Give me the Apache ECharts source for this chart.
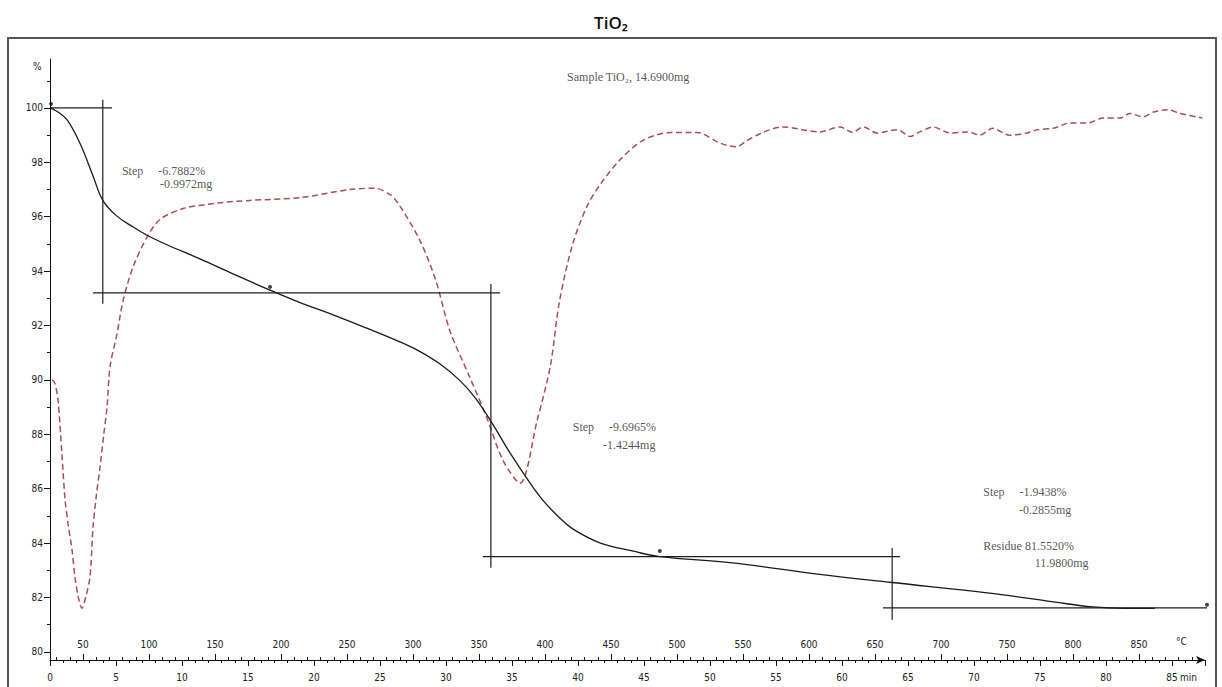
<!DOCTYPE html>
<html><head><meta charset="utf-8">
<script src="https://cdn.jsdelivr.net/npm/echarts@6/dist/echarts.min.js"></script>
<style>html,body{margin:0;padding:0;background:#fff}#c{width:1222px;height:687px}</style>
</head><body><div id="c"></div>
<script>
// ---- data (time in min, mass in %) ----
const tgTime = [0, 0.6, 1.3, 2.27, 3.26, 4.0, 5.0, 6.3, 7.35, 8.86, 11.36, 13.86, 16.67, 18.9, 21.4, 24.0, 26.5, 28.0, 29.5, 31.0, 32.2, 33.5, 34.8, 36.1, 37.3, 38.5, 39.6, 41.7, 44.2, 46.2, 51.7, 58.3, 63.8, 71.0, 76.0, 79.0, 81.4, 83.7];
const tgPercent = [100, 99.85, 99.56, 98.7, 97.5, 96.6, 96.05, 95.62, 95.32, 94.97, 94.45, 93.9, 93.3, 92.85, 92.4, 91.9, 91.4, 91.05, 90.6, 90.0, 89.35, 88.4, 87.35, 86.4, 85.6, 84.98, 84.52, 84.0, 83.7, 83.5, 83.27, 82.85, 82.55, 82.17, 81.84, 81.65, 81.6, 81.6];

const dtgTime = [0.15, 0.35, 0.6, 0.9, 1.14, 1.4, 1.67, 1.89, 2.15, 2.42, 2.7, 3.03, 3.26, 3.5, 3.79, 4.05, 4.32, 4.55, 5.08, 5.53, 6.29, 7.35, 8.33, 10.08, 12.65, 15.15, 18.9, 22.7, 24.6, 25.8, 26.5, 28.0, 29.2, 30.3, 31.8, 33.1, 34.3, 35.6, 36.9, 37.9, 38.6, 39.6, 40.7, 41.7, 43.2, 44.9, 47.0, 49.0, 50.8, 52.0, 52.8, 54.0, 55.5, 58.3, 59.85, 60.8, 61.6, 62.65, 64.2, 65.15, 65.9, 66.9, 68.2, 69.5, 70.45, 71.4, 72.7, 74.0, 74.8, 76.0, 77.3, 78.6, 79.8, 81.1, 81.8, 82.8, 83.6, 84.7, 85.6, 87.3];
const dtgValue = [90.0, 89.9, 89.3, 87.3, 85.6, 84.6, 83.75, 82.76, 82.0, 81.6, 82.0, 82.76, 84.6, 85.7, 86.8, 87.9, 89.0, 90.5, 91.7, 92.9, 94.15, 95.25, 95.9, 96.3, 96.5, 96.6, 96.7, 97.0, 97.05, 96.8, 96.4, 95.15, 93.7, 91.8, 90.1, 88.6, 87.06, 86.2, 88.5, 90.5, 92.9, 95.0, 96.4, 97.2, 98.1, 98.8, 99.1, 99.1, 98.7, 98.57, 98.8, 99.1, 99.3, 99.12, 99.3, 99.1, 99.3, 99.08, 99.2, 98.95, 99.12, 99.3, 99.08, 99.12, 99.0, 99.25, 99.0, 99.08, 99.2, 99.25, 99.45, 99.45, 99.63, 99.63, 99.8, 99.67, 99.85, 99.93, 99.8, 99.63];

// step construction lines: [[t1, v1], [t2, v2]]
const stepLines = [
  [[0, 100], [4.7, 100]],
  [[4.0, 100.3], [4.0, 92.8]],
  [[3.26, 93.2], [34.1, 93.2]],
  [[33.4, 93.53], [33.4, 83.09]],
  [[32.8, 83.5], [64.4, 83.5]],
  [[63.8, 83.82], [63.8, 81.18]],
  [[63.1, 81.62], [88.3, 81.62]]
];
const markerTime = [0.08, 16.67, 46.2, 87.65];
const markerPercent = [100.15, 93.42, 83.71, 81.73];

const percentLabels = [80, 82, 84, 86, 88, 90, 92, 94, 96, 98, 100];
const percentMinor = [81, 83, 85, 87, 89, 91, 93, 95, 97, 99, 101];
const tempLabels = [50, 100, 150, 200, 250, 300, 350, 400, 450, 500, 550, 600, 650, 700, 750, 800, 850];
const tempMinor = [];
for (let c = 30; c <= 890; c += 10) tempMinor.push(c);

const annotationText = ['Step\u2003 -6.7882%', '-0.9972mg', 'Sample TiO\u2082, 14.6900mg', 'Step\u2003 -9.6965%', '-1.4244mg', 'Step\u2003 -1.9438%', '-0.2855mg', 'Residue 81.5520%', '11.9800mg'];
const annotationTime = [5.45, 8.33, 39.17, 39.6, 41.9, 70.7, 73.4, 70.7, 74.6];
const annotationPercent = [97.68, 97.2, 101.14, 88.27, 87.6, 85.88, 85.22, 83.9, 83.27];

// ---- chart ----
const axisFont = "'DejaVu Sans Condensed','Liberation Sans Narrow','Liberation Sans',sans-serif";
const serifFont = "'Liberation Serif','DejaVu Serif',serif";
const chart = echarts.init(document.getElementById('c'), null, {renderer: 'svg'});

const stepSeries = stepLines.map(seg => ({
  type: 'line', data: seg, symbol: 'none', clip: false, silent: true,
  lineStyle: {color: '#1e1e1e', width: 1.2}, z: 3
}));

chart.setOption({
  animation: false,
  backgroundColor: '#fff',
  title: {
    text: 'TiO\u2082', left: 'center', top: 9,
    textStyle: {fontFamily: "'Open Sans','DejaVu Sans',sans-serif", fontSize: 17, fontWeight: 600, color: '#111'}
  },
  graphic: [
    {type: 'rect', shape: {x: 8, y: 38, width: 1208, height: 670}, style: {fill: 'none', stroke: '#555', lineWidth: 2}, z: -1},
    {type: 'text', left: 33, top: 61, style: {text: '%', font: '10px ' + axisFont, fill: '#222'}},
    {type: 'text', left: 1176, top: 636, style: {text: '\u00B0C', font: '10px ' + axisFont, fill: '#222'}},
    {type: 'text', left: 1180, top: 672, style: {text: 'min', font: '10px ' + axisFont, fill: '#222'}}
  ],
  grid: {left: 50, right: 17, top: 59, bottom: 27, containLabel: false},
  xAxis: [
    {
      type: 'value', min: 0, max: 87.5, interval: 5, position: 'bottom',
      axisLine: {show: true, symbol: ['none', 'arrow'], symbolSize: [6, 9], lineStyle: {color: '#111', width: 1}},
      axisTick: {show: true, length: 6, lineStyle: {color: '#111'}},
      minorTick: {show: true, splitNumber: 5, length: 3, lineStyle: {color: '#111'}},
      axisLabel: {show: true, margin: 12, showMaxLabel: false, fontFamily: axisFont, fontSize: 10, color: '#222'},
      splitLine: {show: false}, minorSplitLine: {show: false}
    },
    {
      type: 'value', min: 25, max: 900, position: 'bottom',
      axisLine: {show: false},
      axisTick: {show: true, inside: true, length: 6, customValues: tempLabels, lineStyle: {color: '#111'}},
      axisLabel: {show: true, inside: true, margin: 11, customValues: tempLabels, fontFamily: axisFont, fontSize: 10, color: '#222'},
      splitLine: {show: false}
    },
    {
      type: 'value', min: 25, max: 900, position: 'bottom',
      axisLine: {show: false},
      axisTick: {show: true, inside: true, length: 3, customValues: tempMinor, lineStyle: {color: '#111'}},
      axisLabel: {show: false},
      splitLine: {show: false}
    }
  ],
  yAxis: [
    {
      type: 'value', min: 79.7, max: 101.8, position: 'left',
      axisLine: {show: true, lineStyle: {color: '#111', width: 1}},
      axisTick: {show: true, length: 6, customValues: percentLabels, lineStyle: {color: '#111'}},
      axisLabel: {show: true, margin: 7, customValues: percentLabels, fontFamily: axisFont, fontSize: 10, color: '#222'},
      splitLine: {show: false}
    },
    {
      type: 'value', min: 79.7, max: 101.8, position: 'left',
      axisLine: {show: false},
      axisTick: {show: true, length: 3, customValues: percentMinor, lineStyle: {color: '#111'}},
      axisLabel: {show: false},
      splitLine: {show: false}
    }
  ],
  series: [
    {
      name: 'DTG', type: 'line', smooth: 0.3, symbol: 'none', z: 2,
      data: dtgTime.map((t, i) => [t, dtgValue[i]]),
      lineStyle: {color: '#a94f55', width: 1.5, type: [6, 3.5]}
    },
    {
      name: 'TG', type: 'line', smooth: 0.4, symbol: 'none', z: 4,
      data: tgTime.map((t, i) => [t, tgPercent[i]]),
      lineStyle: {color: '#1a1a1a', width: 1.3}
    },
    ...stepSeries,
    {
      name: 'markers', type: 'scatter', symbol: 'circle', symbolSize: 4, clip: false, z: 5,
      data: markerTime.map((t, i) => [t, markerPercent[i]]),
      itemStyle: {color: '#111'}
    },
    {
      name: 'annotations', type: 'scatter', symbolSize: 0, clip: false, silent: true, z: 6,
      data: annotationTime.map((t, i) => ({value: [t, annotationPercent[i]], name: annotationText[i]})),
      label: {
        show: true, position: [0, 0], align: 'left', verticalAlign: 'middle',
        formatter: p => p.name, fontFamily: serifFont, fontSize: 12, color: '#2a2a2a'
      }
    }
  ]
});
</script>
</body></html>
